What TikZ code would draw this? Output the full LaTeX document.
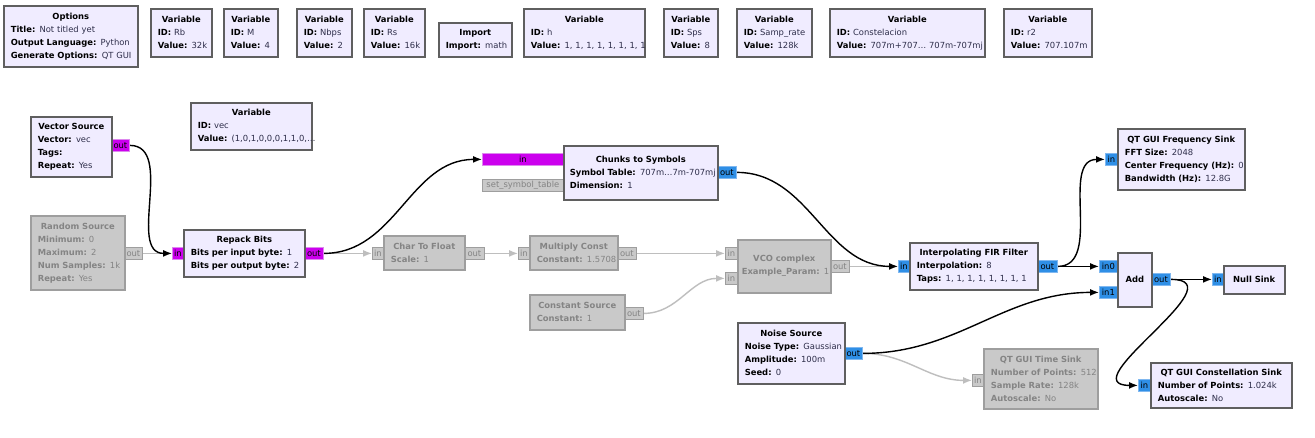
\documentclass[tikz,border=0pt]{standalone}
\usepackage{fontspec}
\setmainfont{DejaVu Sans}
\usetikzlibrary{arrows.meta,positioning}
\pgfdeclarelayer{wires}
\pgfsetlayers{wires,main}
\definecolor{blkfill}{HTML}{F0ECFF}
\definecolor{blkline}{HTML}{5F5F5F}
\definecolor{offfill}{HTML}{C9C9C9}
\definecolor{offline}{HTML}{9E9E9E}
\definecolor{offtxt}{HTML}{848484}
\definecolor{offwire}{HTML}{BEBEBE}
\definecolor{bytefill}{HTML}{CC00EE}
\definecolor{byteline}{HTML}{DD88EE}
\definecolor{cpxfill}{HTML}{2F8FE6}
\definecolor{cpxline}{HTML}{80B8F0}
\definecolor{valtxt}{HTML}{2E2E4A}
\newcommand{\btitle}[1]{{\centering\mbox{\textbf{#1}}\par}}
\newcommand{\kv}[2]{\mbox{\textbf{#1:} {\color{valtxt}#2}}}

\begin{document}
\begin{tikzpicture}[x=1pt,y=-1pt,>={Latex[length=9pt,width=7pt]},font=\fontsize{8.4}{13}\selectfont]
    \tikzstyle{blk}=[draw=blkline,fill=blkfill,line width=1.6pt,anchor=north west,inner xsep=7pt,inner ysep=0pt,align=left]
    \tikzstyle{off}=[draw=offline,fill=offfill,text=offtxt,execute at begin node={\colorlet{valtxt}{offtxt}}]
    \tikzstyle{port}=[anchor=north west,inner sep=0pt,minimum height=12pt,line width=0.8pt]
    \tikzstyle{byte}=[port,draw=byteline,fill=bytefill]
    \tikzstyle{cpx}=[port,draw=cpxline,fill=cpxfill]
    \tikzstyle{dead}=[port,draw=offline,fill=offfill,text=offtxt]
    \tikzstyle{wire}=[line width=1.4pt,->]
    \tikzstyle{dwire}=[wire,draw=offwire]

    \useasboundingbox (0,0) rectangle (1315,438);

    % ports
    \node[byte,minimum width=18pt] (vsrcout) at (111,139) {out};
    \node[dead,minimum width=18pt] (rndout) at (124,247) {out};
    \node[byte,minimum width=11pt] (rpkin) at (172,247) {in};
    \node[byte,minimum width=19pt] (rpkout) at (304,247) {out};
    \node[byte,minimum width=81pt] (c2sin) at (482,153) {in};
    \node[dead,minimum width=81pt] (c2sset) at (482,179) {set\_symbol\_table};
    \node[cpx,minimum width=19pt] (c2sout) at (717,166) {out};
    \node[dead,minimum width=11pt] (ctfin) at (372,247) {in};
    \node[dead,minimum width=20pt] (ctfout) at (464,247) {out};
    \node[dead,minimum width=11pt] (mulin) at (518,247) {in};
    \node[dead,minimum width=19pt] (mulout) at (617,247) {out};
    \node[dead,minimum width=19pt] (csrcout) at (624,307) {out};
    \node[dead,minimum width=12pt] (vcoin0) at (725,247) {in};
    \node[dead,minimum width=12pt] (vcoin1) at (725,272) {in};
    \node[dead,minimum width=19pt] (vcoout) at (830,260) {out};
    \node[cpx,minimum width=11pt] (firin) at (898,260) {in};
    \node[cpx,minimum width=20pt] (firout) at (1037,260) {out};
    \node[cpx,minimum width=12pt] (fsinkin) at (1105,153) {in};
    \node[cpx,minimum width=18pt] (addin0) at (1099,260) {in0};
    \node[cpx,minimum width=18pt] (addin1) at (1099,286) {in1};
    \node[cpx,minimum width=19pt] (addout) at (1151,273) {out};
    \node[cpx,minimum width=11pt] (nullin) at (1212,273) {in};
    \node[cpx,minimum width=18pt] (noiseout) at (844,347) {out};
    \node[dead,minimum width=11pt] (tsinkin) at (972,374) {in};
    \node[cpx,minimum width=12pt] (csinkin) at (1138,379) {in};

    % top row
    \node[blk,minimum width=134pt,minimum height=61pt,text width=120pt] (opts) at (3,5)
        {\btitle{Options}\kv{Title}{Not titled yet}\\\kv{Output Language}{Python}\\\kv{Generate Options}{QT GUI}};
    \node[blk,minimum width=61pt,minimum height=48pt,text width=47pt] (rb) at (150,8)
        {\btitle{Variable}\kv{ID}{Rb}\\\kv{Value}{32k}};
    \node[blk,minimum width=54pt,minimum height=48pt,text width=40pt] (m) at (223,8)
        {\btitle{Variable}\kv{ID}{M}\\\kv{Value}{4}};
    \node[blk,minimum width=55pt,minimum height=48pt,text width=41pt] (nbps) at (296,8)
        {\btitle{Variable}\kv{ID}{Nbps}\\\kv{Value}{2}};
    \node[blk,minimum width=61pt,minimum height=48pt,text width=47pt] (rs) at (363,8)
        {\btitle{Variable}\kv{ID}{Rs}\\\kv{Value}{16k}};
    \node[blk,minimum width=73pt,minimum height=34pt,text width=59pt] (imp) at (438,22)
        {\btitle{Import}\kv{Import}{math}};
    \node[blk,minimum width=121pt,minimum height=48pt,text width=107pt] (h) at (523,8)
        {\btitle{Variable}\kv{ID}{h}\\\kv{Value}{1, 1, 1, 1, 1, 1, 1, 1}};
    \node[blk,minimum width=54pt,minimum height=48pt,text width=40pt] (sps) at (663,8)
        {\btitle{Variable}\kv{ID}{Sps}\\\kv{Value}{8}};
    \node[blk,minimum width=75pt,minimum height=48pt,text width=61pt] (samp) at (736,8)
        {\btitle{Variable}\kv{ID}{Samp\_rate}\\\kv{Value}{128k}};
    \node[blk,minimum width=155pt,minimum height=48pt,text width=141pt] (cons) at (829,8)
        {\btitle{Variable}\kv{ID}{Constelacion}\\\kv{Value}{707m+707… 707m-707mj}};
    \node[blk,minimum width=88pt,minimum height=48pt,text width=74pt] (r2) at (1003,8)
        {\btitle{Variable}\kv{ID}{r2}\\\kv{Value}{707.107m}};

    % flowgraph
    \node[blk,minimum width=81pt,minimum height=60pt,text width=67pt] (vecsrc) at (30,116)
        {\btitle{Vector Source}\kv{Vector}{vec}\\\kv{Tags}{}\\\kv{Repeat}{Yes}};
    \node[blk,minimum width=121pt,minimum height=47pt,text width=107pt] (vec) at (190,102)
        {\btitle{Variable}\kv{ID}{vec}\\\kv{Value}{(1,0,1,0,0,0,1,1,0,…}};
    \node[blk,off,minimum width=94pt,minimum height=74pt,text width=80pt] (rnd) at (30,215)
        {\btitle{Random Source}\kv{Minimum}{0}\\\kv{Maximum}{2}\\\kv{Num Samples}{1k}\\\kv{Repeat}{Yes}};
    \node[blk,minimum width=121pt,minimum height=47pt,text width=107pt] (rpk) at (183,229)
        {\btitle{Repack Bits}\kv{Bits per input byte}{1}\\\kv{Bits per output byte}{2}};
    \node[blk,minimum width=154pt,minimum height=54pt,text width=142pt,inner xsep=6pt] (c2s) at (563,145)
        {\btitle{Chunks to Symbols}\kv{Symbol Table}{707m…7m-707mj}\\\kv{Dimension}{1}};
    \node[blk,off,minimum width=81pt,minimum height=34pt,text width=67pt] (ctf) at (383,235)
        {\btitle{Char To Float}\kv{Scale}{1}};
    \node[blk,off,minimum width=88pt,minimum height=34pt,text width=74pt] (mul) at (529,235)
        {\btitle{Multiply Const}\kv{Constant}{1.5708}};
    \node[blk,off,minimum width=95pt,minimum height=35pt,text width=81pt] (csrc) at (529,294)
        {\btitle{Constant Source}\kv{Constant}{1}};
    \node[blk,off,minimum width=93pt,minimum height=53pt,text width=85pt,inner xsep=4pt] (vco) at (737,239)
        {\btitle{VCO complex}\kv{Example\_Param}{1}};
    \node[blk,minimum width=128pt,minimum height=47pt,text width=114pt] (fir) at (909,242)
        {\btitle{Interpolating FIR Filter}\kv{Interpolation}{8}\\\kv{Taps}{1, 1, 1, 1, 1, 1, 1, 1}};
    \node[blk,minimum width=127pt,minimum height=61pt,text width=113pt] (fsink) at (1117,128)
        {\btitle{QT GUI Frequency Sink}\kv{FFT Size}{2048}\\\kv{Center Frequency (Hz)}{0}\\\kv{Bandwidth (Hz)}{12.8G}};
    \node[blk,minimum width=34pt,minimum height=54pt,text width=20pt] (add) at (1117,252)
        {\btitle{Add}};
    \node[blk,minimum width=61pt,minimum height=28pt,text width=47pt] (null) at (1223,265)
        {\btitle{Null Sink}};
    \node[blk,minimum width=107pt,minimum height=61pt,text width=93pt] (noise) at (737,322)
        {\btitle{Noise Source}\kv{Noise Type}{Gaussian}\\\kv{Amplitude}{100m}\\\kv{Seed}{0}};
    \node[blk,off,minimum width=114pt,minimum height=60pt,text width=100pt] (tsink) at (983,348)
        {\btitle{QT GUI Time Sink}\kv{Number of Points}{512}\\\kv{Sample Rate}{128k}\\\kv{Autoscale}{No}};
    \node[blk,minimum width=141pt,minimum height=45pt,text width=127pt] (csink) at (1150,362)
        {\btitle{QT GUI Constellation Sink}\kv{Number of Points}{1.024k}\\\kv{Autoscale}{No}};

    \begin{pgfonlayer}{wires}
    \fill[white] (0,0) rectangle (1315,438);
    \draw[dwire] (rndout.east) -- (rpkin.west);
    \draw[dwire] (rpkout.east) -- (ctfin.west);
    \draw[dwire] (ctfout.east) -- (mulin.west);
    \draw[dwire] (mulout.east) -- (vcoin0.west);
    \draw[dwire] (csrcout.east) to[out=0,in=180] (vcoin1.west);
    \draw[dwire] (vcoout.east) -- (firin.west);
    \draw[dwire] (noiseout.east) to[out=0,in=180] (tsinkin.west);
    \draw[wire] (vsrcout.east) to[out=0,in=180] (rpkin.west);
    \draw[wire] (rpkout.east) to[out=0,in=180] (c2sin.west);
    \draw[wire] (c2sout.east) to[out=0,in=180] (firin.west);
    \draw[wire] (firout.east) to[out=0,in=180] (fsinkin.west);
    \draw[wire] (firout.east) -- (addin0.west);
    \draw[wire] (noiseout.east) to[out=0,in=180] (addin1.west);
    \draw[wire] (addout.east) -- (nullin.west);
    \draw[wire] (addout.east) to[out=0,in=180,looseness=1.6] (csinkin.west);
    \end{pgfonlayer}
\end{tikzpicture}
\end{document}
